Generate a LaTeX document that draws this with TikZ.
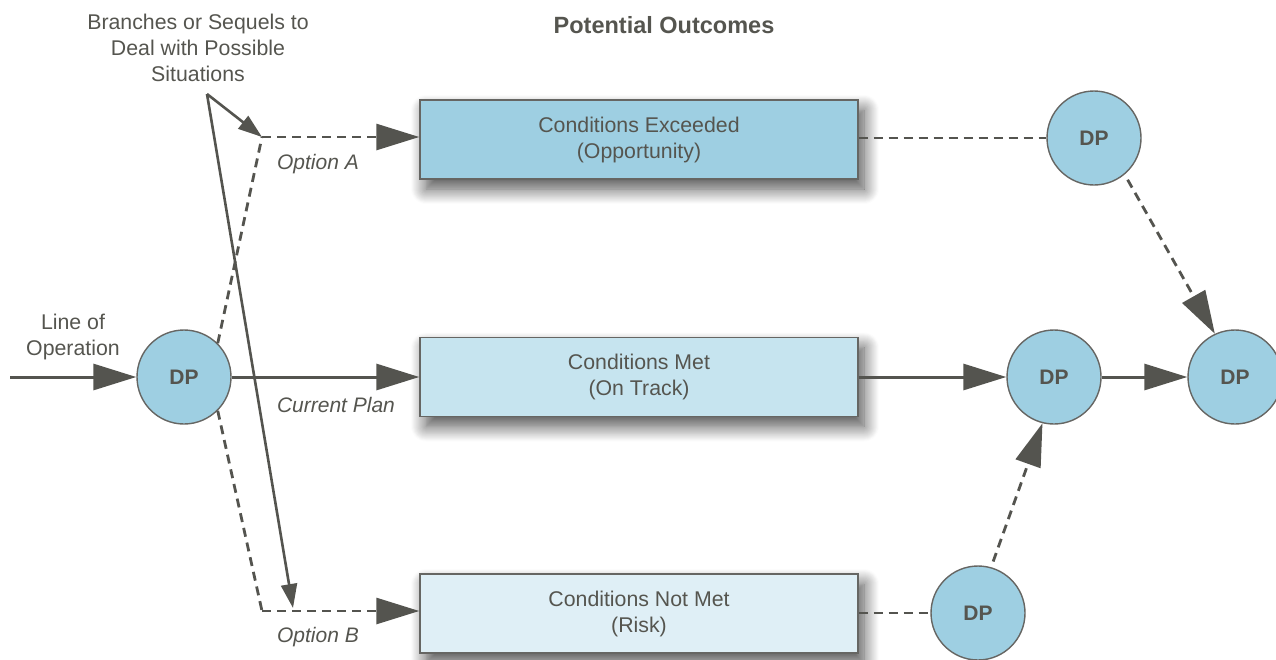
\documentclass[tikz,border=0pt]{standalone}
\usepackage{fontspec}
\setmainfont{Liberation Sans}
\usetikzlibrary{arrows.meta,shadows.blur}
\definecolor{ink}{HTML}{54544F}
\definecolor{txt}{HTML}{55554F}
\definecolor{edge}{HTML}{666663}
\definecolor{blueA}{HTML}{9ECFE2}
\definecolor{blueB}{HTML}{C6E4EF}
\definecolor{blueC}{HTML}{DFEFF6}
\tikzset{
  txtfont/.style={font=\fontsize{21.3}{26}\selectfont, text=txt, align=center},
  outcome/.style={draw=edge, line width=1.4pt, minimum width=438pt, minimum height=79pt,
    inner sep=0pt, txtfont,
    blur shadow={shadow xshift=6pt, shadow yshift=-10pt, shadow blur radius=15pt, shadow blur steps=16, shadow opacity=70}},
  dpnode/.style={circle, draw=edge, line width=1.4pt, fill=blueA, minimum size=94pt, inner sep=0pt,
    font=\fontsize{21}{24}\selectfont\bfseries, text=txt},
  bigtip/.style={-{Triangle[length=43pt,width=26pt]}},
  flow/.style={draw=ink, line width=3pt},
  dashflow/.style={draw=ink, line width=2.8pt, dash pattern=on 9pt off 6pt},
  note/.style={draw=ink, line width=2.6pt},
  smalltip/.style={-{Triangle[length=24pt,width=16pt]}},
  optlabel/.style={font=\fontsize{21}{24}\selectfont\itshape, text=txt}
}
\begin{document}
\begin{tikzpicture}[x=1pt,y=-1pt]
\useasboundingbox (0,0) rectangle (1276,659);

% headings and notes
\node[font=\fontsize{23.5}{27}\selectfont\bfseries, text=txt] (title) at (664,25) {Potential Outcomes};
\node[txtfont] (branches) at (198,48) {Branches or Sequels to\\Deal with Possible\\Situations};
\node[txtfont] (lineop) at (73,337) {Line of\\Operation};

% outcome boxes
\node[outcome, fill=blueA] (exceeded) at (639,139.5) {Conditions Exceeded\\(Opportunity)};
\node[outcome, fill=blueB] (met) at (639,377) {Conditions Met\\(On Track)};
\node[outcome, fill=blueC] (notmet) at (639,613.5) {Conditions Not Met\\(Risk)};

% decision points
\node[dpnode] (dp) at (184,377) {DP};
\node[dpnode] (dptop) at (1094,138) {DP};
\node[dpnode] (dpmid) at (1054,377) {DP};
\node[dpnode] (dpright) at (1235,377) {DP};
\node[dpnode] (dpbot) at (978,613) {DP};

% path corners and free ends
\coordinate (start) at (10,377);
\coordinate (ka) at (262,137);
\coordinate (kb) at (262,611);
\coordinate (ann) at (207,94);
\coordinate (annb) at (293,608);

% line of operation and current plan
\draw[flow, bigtip] (start) -- (dp.west);
\draw[flow, bigtip] (dp.east) -- (met.west);
\node[optlabel] (curplan) at (336,405) {Current Plan};

% branch options
\draw[dashflow] (dp.45) -- (ka);
\draw[dashflow, bigtip] (ka) -- (exceeded.west |- ka);
\node[optlabel] (opta) at (318,164) {Option A};
\draw[dashflow] (dp.-45) -- (kb);
\draw[dashflow, bigtip] (kb) -- (notmet.west |- kb);
\node[optlabel] (optb) at (318,637) {Option B};

% note pointers
\draw[note, smalltip] (ann) -- (ka);
\draw[note, smalltip] (ann) -- (annb);

% onward flow
\draw[dashflow] (exceeded.east |- dptop) -- (dptop.west);
\draw[dashflow, bigtip, shorten <=6pt] (dptop.-50) -- (dpright.115);
\draw[flow, bigtip] (met.east) -- (dpmid.west);
\draw[flow, bigtip] (dpmid.east) -- (dpright.west);
\draw[dashflow] (notmet.east |- dpbot) -- (dpbot.west);
\draw[dashflow, bigtip, shorten <=6pt] (dpbot.74) -- (dpmid.-104);
\end{tikzpicture}
\end{document}
